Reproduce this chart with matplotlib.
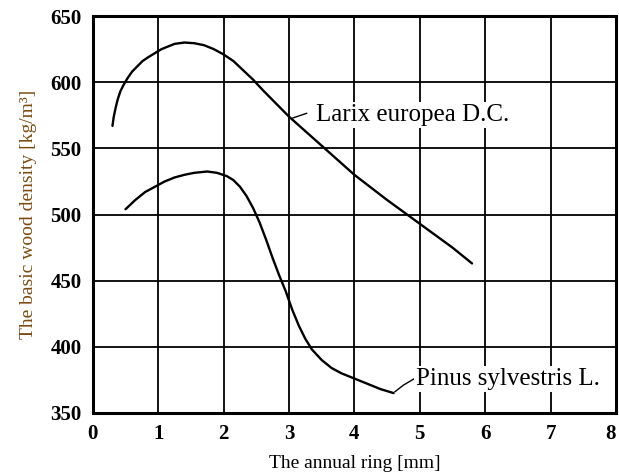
import numpy as np
import matplotlib.pyplot as plt

plt.rcParams['font.family'] = ['Liberation Serif', 'DejaVu Serif']

# values
larix_x = [0.30, 0.32, 0.35, 0.38, 0.42, 0.47, 0.53, 0.60, 0.68, 0.76, 0.85, 0.95, 1.05, 1.15,
           1.25, 1.40, 1.55, 1.70, 1.85, 2.00, 2.15, 2.30, 2.45, 2.60, 2.80, 3.00, 3.50,
           4.00, 4.50, 5.00, 5.50, 5.80]
larix_y = [567, 574, 581, 587, 593, 598, 603, 608, 612, 616, 619, 622, 625, 627,
           629, 630, 629.5, 628, 625, 621, 616, 609, 602, 594, 584, 574, 552,
           530, 511, 493, 475, 463]
pinus_x = [0.50, 0.65, 0.80, 0.95, 1.10, 1.25, 1.40, 1.55, 1.75, 1.90, 2.05, 2.15, 2.25,
           2.35, 2.45, 2.55, 2.65, 2.75, 2.85, 2.95, 3.05, 3.15, 3.25, 3.35, 3.50,
           3.65, 3.80, 4.00, 4.20, 4.40, 4.60]
pinus_y = [504, 511, 517, 521, 525, 528, 530, 531.5, 532.5, 531.5, 529, 526, 521,
           514, 505, 494, 481, 467, 454, 442, 428, 416, 406, 398, 390,
           384, 380, 376, 372, 368, 365]

xticks = [0, 1, 2, 3, 4, 5, 6, 7, 8]
yticks = [350, 400, 450, 500, 550, 600, 650]

fig = plt.figure(figsize=(6.19, 4.73), dpi=100)
ax = fig.add_axes([0.150, 0.127, 0.845, 0.839])

ax.plot(larix_x, larix_y, color='black', lw=1.7, solid_capstyle='round')
ax.plot(pinus_x, pinus_y, color='black', lw=1.7, solid_capstyle='round')

# leader lines and labels (white box breaks the grid like the original)
box = dict(facecolor='white', edgecolor='none', pad=1.5)
ax.plot([3.06, 3.27], [573, 576.5], color='black', lw=1)
ax.text(3.42, 575, 'Larix europea D.C.', fontsize=18, va='center', ha='left', bbox=box)
ax.plot([4.62, 4.75, 4.92], [366, 371, 376], color='black', lw=1)
ax.text(4.95, 376, 'Pinus sylvestris L.', fontsize=18, va='center', ha='left', bbox=box)

ax.set_xlim(0, 8)
ax.set_ylim(350, 650)
ax.set_xticks(xticks)
ax.set_yticks(yticks)
ax.grid(True, color='black', lw=1.3)
for s in ax.spines.values():
    s.set_linewidth(2.2)
ax.tick_params(length=0, pad=8, labelsize=15)
for lab in ax.get_xticklabels() + ax.get_yticklabels():
    lab.set_fontweight('bold')
ax.get_xticklabels()[-1].set_horizontalalignment('right')

ax.set_xlabel('The annual ring [mm]', fontsize=14, labelpad=8)
ax.set_ylabel('The basic wood density [kg/m³]', fontsize=14, color='#7a4a12', labelpad=10)

fig.savefig('out.png', dpi=100)
